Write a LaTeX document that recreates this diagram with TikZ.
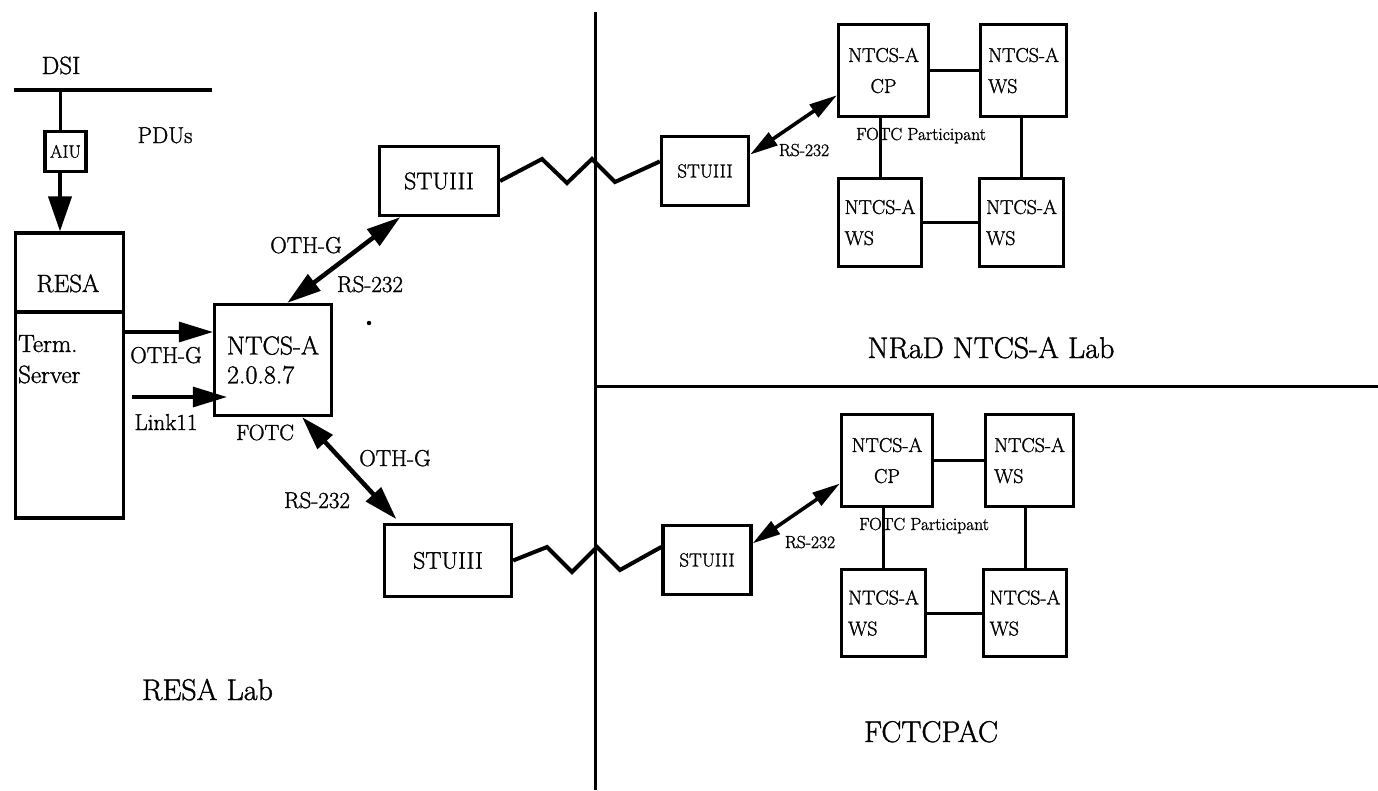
\documentclass[tikz,border=0pt]{standalone}
\usepackage{fontspec}
\setmainfont{Latin Modern Roman}[FakeBold=1.3]
\usetikzlibrary{arrows.meta,calc}
\newcommand\fsz[2]{\fontsize{#1}{#2}\selectfont}
\begin{document}
\begin{tikzpicture}[x=1pt,y=-1pt,
  box/.style={draw,line width=3.2pt,inner sep=2pt,align=left},
  rbox/.style={box,font=\fsz{20}{31}},
  lbl/.style={inner sep=0pt,anchor=base},
  conn/.style={line width=3pt},
  arr/.style={line width=3.2pt,-{Triangle[length=34pt,width=20pt]}},
  darr/.style={line width=4.5pt,{Triangle[length=34pt,width=20pt]}-{Triangle[length=34pt,width=20pt]}},
  rdarr/.style={line width=3.6pt,{Triangle[length=28pt,width=15pt]}-{Triangle[length=28pt,width=15pt]}},
  zig/.style={line width=4pt,line join=miter}]
\useasboundingbox (0,0) rectangle (1378,790);

% dividers
\coordinate (vtop) at (595,12);
\coordinate (vbot) at (595,790);
\coordinate (hr) at (1378,386);
\draw[line width=3pt] (vtop) -- (vbot);
\draw[line width=3pt] (vtop |- hr) -- (hr);

% DSI bus
\coordinate (dsiL) at (14,90);
\coordinate (dsiR) at (212,90);
\coordinate (tap) at (60,90);
\draw[line width=4pt] (dsiL) -- (dsiR);
\node[lbl,font=\fsz{25}{30}] (dsi) at (61,74) {DSI};
\node[lbl,font=\fsz{23}{28}] (pdus) at (165,143) {PDUs};

% left lab
\node[box,inner sep=0pt,minimum width=41,minimum height=40,font=\fsz{18}{21}] (aiu) at (65.5,151.5) {AIU};
\node[box,minimum width=108,minimum height=79] (resa) at (69.5,272.5) {};
\node[box,minimum width=108,minimum height=206] (term) at (69.5,415) {};
\node[lbl,font=\fsz{25}{30}] (resat) at (68,292) {RESA};
\node[inner sep=0pt,anchor=base west,font=\fsz{25}{30}] (termt) at (18,352) {Term.};
\node[inner sep=0pt,anchor=base west,font=\fsz{25}{30}] (servt) at (18,383) {Server};
\draw[conn] (tap) -- (aiu.north -| tap);
\draw[line width=4pt,-{Triangle[length=35pt,width=23pt]}] (aiu.south -| tap) -- (resa.north -| tap);

\node[box,minimum width=117,minimum height=111,font=\fsz{26}{29}] (ntcs) at (273,360) {NTCS-A\\2.0.8.7};
\coordinate (yo) at (0,332);
\coordinate (yl) at (0,397);
\draw[arr] (term.east |- yo) -- (ntcs.west |- yo);
\draw[arr] ($(term.east |- yl)+(7,0)$) -- ($(ntcs.west |- yl)+(14,0)$);
\node[lbl,font=\fsz{23}{28}] (othg1) at (166,363) {OTH-G};
\node[lbl,font=\fsz{23}{28}] (link) at (166,430) {Link11};
\node[lbl,font=\fsz{22}{26}] (fotc) at (265,440) {FOTC};
\fill (369,323) circle (2.2pt);

\node[box,minimum width=119,minimum height=69,font=\fsz{24}{29}] (stu1) at (439,181) {STUIII};
\node[box,minimum width=127,minimum height=72,font=\fsz{24}{29}] (stu3) at (448,560.5) {STUIII};
\draw[darr] (ntcs.76) -- (stu1.223);
\draw[darr,shorten >=5pt] (ntcs.297) -- (stu3.142);
\node[lbl,font=\fsz{23}{28}] (othg2) at (306,253) {OTH-G};
\node[lbl,font=\fsz{23}{28}] (rs1) at (370,292) {RS-232};
\node[lbl,font=\fsz{23}{28}] (othg3) at (395,466) {OTH-G};
\node[lbl,font=\fsz{23}{28}] (rs2) at (317,508) {RS-232};

% NRaD group
\node[box,minimum width=87,minimum height=69,font=\fsz{19}{23}] (stu2) at (705,171) {STUIII};
\node[rbox,align=center,minimum width=90,minimum height=92] (cp1) at (883.5,70.5) {NTCS-A\\CP};
\node[rbox,minimum width=86,minimum height=92] (ws1a) at (1023.5,70.5) {NTCS-A\\WS};
\node[rbox,minimum width=83,minimum height=88] (ws1b) at (880,222.5) {NTCS-A\\WS};
\node[rbox,minimum width=84,minimum height=88] (ws1c) at (1021.5,222.5) {NTCS-A\\WS};
\draw[conn] (cp1) -- (ws1a);
\draw[conn] (ws1b.north) -- (ws1b.north |- cp1.south);
\draw[conn] (ws1c.north) -- (ws1c.north |- ws1a.south);
\draw[conn] (ws1b) -- (ws1c);
\draw[rdarr] (stu2.20) -- (cp1.208);
\node[lbl,font=\fsz{17.5}{21}] (rs3) at (804,156) {RS-232};
\node[lbl,font=\fsz{17.5}{21}] (fp1) at (921,140) {FOTC Participant};

% FCTCPAC group
\node[box,minimum width=88,minimum height=69,font=\fsz{19}{23}] (stu4) at (707,560) {STUIII};
\node[rbox,align=center,minimum width=91,minimum height=92] (cp2) at (887,460.5) {NTCS-A\\CP};
\node[rbox,minimum width=88,minimum height=92] (ws2a) at (1029.5,460.5) {NTCS-A\\WS};
\node[rbox,minimum width=84,minimum height=87] (ws2b) at (883.5,613) {NTCS-A\\WS};
\node[rbox,minimum width=83,minimum height=87] (ws2c) at (1025,613) {NTCS-A\\WS};
\draw[conn] (cp2) -- (ws2a);
\draw[conn] (ws2b.north) -- (ws2b.north |- cp2.south);
\draw[conn] (ws2c.north) -- (ws2c.north |- ws2a.south);
\draw[conn] (ws2b) -- (ws2c);
\draw[rdarr] (stu4.20) -- (cp2.206);
\node[lbl,font=\fsz{17.5}{21}] (rs4) at (810,548) {RS-232};
\node[lbl,font=\fsz{17.5}{21}] (fp2) at (924,530) {FOTC Participant};

% zigzag links
\draw[zig] (stu1.east) -- (542,159) -- (567,183) -- (592,159) -- (615,182) -- (stu2.168);
\draw[zig] (stu3.east) -- (547,547) -- (572,572) -- (597,547) -- (620,570) -- (stu4.164);

% lab names
\node[lbl,font=\fsz{30}{36}] (resalab) at (207.5,700) {RESA Lab};
\node[lbl,font=\fsz{30}{36}] (nrad) at (991,358) {NRaD NTCS-A Lab};
\node[lbl,font=\fsz{30}{36}] (fctc) at (931,742) {FCTCPAC};
\end{tikzpicture}
\end{document}
